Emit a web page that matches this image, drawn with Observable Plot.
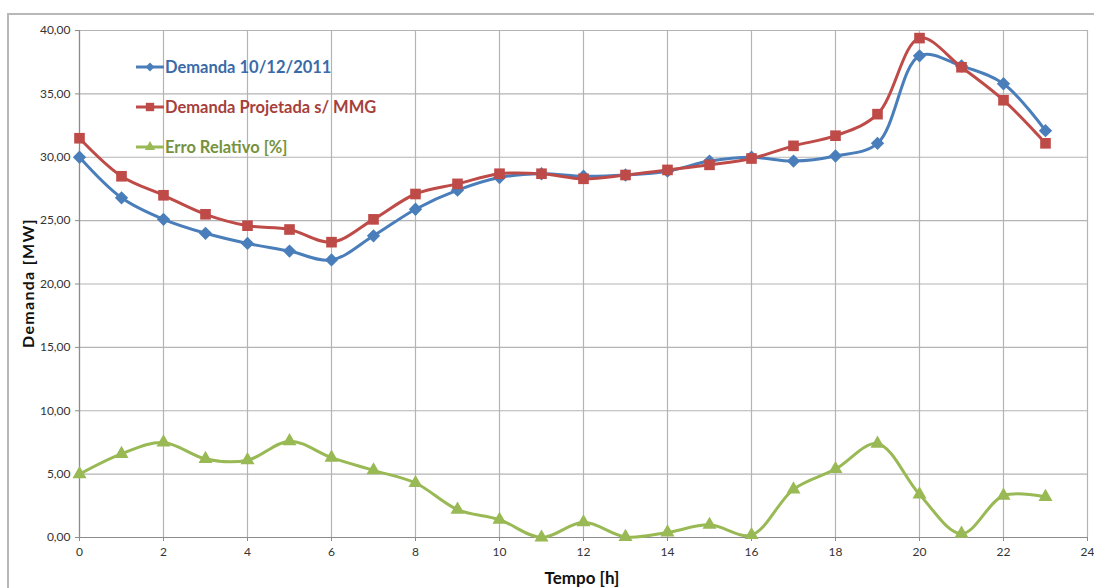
<!DOCTYPE html>
<html>
<head>
<meta charset="utf-8">
<script src="https://cdn.jsdelivr.net/npm/d3@7"></script>
<script src="https://cdn.jsdelivr.net/npm/@observablehq/plot@0.6"></script>
<style>
  html, body { margin: 0; padding: 0; background: #fff; }
  #chart { position: relative; width: 1094px; height: 588px; overflow: hidden; font-family: Lato, "Open Sans", sans-serif; }
  #frame { position: absolute; left: 7px; top: 13px; width: 1200px; height: 700px; border-left: 2px solid #b8b8b8; border-top: 2px solid #b8b8b8; box-sizing: border-box; pointer-events: none; }
  #legend { position: absolute; left: 136px; top: 47px; font-weight: bold; font-size: 16.5px; }
  #legend .row { display: flex; align-items: center; height: 40px; }
  #legend svg { margin-right: 1px; }
  #ylabel { position: absolute; left: 27px; top: 283px; transform: translate(-50%, -50%) rotate(-90deg); font-weight: bold; font-size: 16px; letter-spacing: 1.3px; white-space: nowrap; color: #111; }
  #xlabel { position: absolute; left: 582px; top: 569px; line-height: 17px; transform: translateX(-50%); font-weight: bold; font-size: 17px; white-space: nowrap; color: #111; }
</style>
</head>
<body>
<div id="chart">
  <div id="frame"></div>
</div>
<script>
// Hours of the day
const hours = [0, 1, 2, 3, 4, 5, 6, 7, 8, 9, 10, 11, 12, 13, 14, 15, 16, 17, 18, 19, 20, 21, 22, 23];

// Measured demand on 10/12/2011 [MW]
const demanda = [30.0, 26.8, 25.1, 24.0, 23.2, 22.6, 21.9, 23.8, 25.9, 27.4, 28.4, 28.7,
                 28.5, 28.6, 28.9, 29.7, 30.0, 29.7, 30.1, 31.1, 38.0, 37.2, 35.8, 32.1];

// Projected demand without MMG [MW]
const projetada = [31.5, 28.5, 27.0, 25.5, 24.6, 24.3, 23.3, 25.1, 27.1, 27.9, 28.7, 28.7,
                   28.3, 28.6, 29.0, 29.4, 29.9, 30.9, 31.7, 33.4, 39.4, 37.1, 34.5, 31.1];

// Relative error [%]
const erro = [5.0, 6.6, 7.5, 6.2, 6.1, 7.6, 6.3, 5.3, 4.3, 2.2, 1.4, 0.0,
              1.2, 0.05, 0.4, 1.0, 0.2, 3.8, 5.4, 7.4, 3.4, 0.3, 3.3, 3.2];

const seriesNames = ["Demanda 10/12/2011", "Demanda Projetada s/ MMG", "Erro Relativo [%]"];
const lineColors = ["#4a7ebb", "#be4b48", "#98b954"];
const textColors = ["#3a6aa8", "#a63f3c", "#76923c"];
const symbols = ["diamond2", "square", "triangle"];
const symbolR = [6, 6, 5.2];

const xTicks = d3.range(0, 25, 2);
const yTicks = d3.range(0, 41, 5);
const fmt = d => d.toFixed(2).replace(".", ",");

const series = [demanda, projetada, erro].map(vals => hours.map((h, i) => ({h, v: vals[i]})));

const marks = [
  Plot.gridX(xTicks, {stroke: "#b4b4b4", strokeOpacity: 1, strokeWidth: 1.2}),
  Plot.gridY(yTicks, {stroke: "#b4b4b4", strokeOpacity: 1, strokeWidth: 1.2}),
  Plot.ruleX([0], {stroke: "#8c8c8c", strokeWidth: 1.2}),
  Plot.ruleY([0], {stroke: "#8c8c8c", strokeWidth: 1.2}),
  Plot.axisX({ticks: xTicks, tickSize: 4, tickPadding: 6, stroke: "#8c8c8c", fontSize: 12, fill: "#333", label: null}),
  Plot.axisY({ticks: yTicks, tickSize: 4, tickPadding: 5, tickFormat: fmt, stroke: "#8c8c8c", fontSize: 12, fill: "#333", label: null})
];

// Lines first, then markers on top
series.forEach((data, k) => {
  marks.push(Plot.line(data, {x: "h", y: "v", stroke: lineColors[k], strokeWidth: 3, curve: "catmull-rom"}));
});
series.forEach((data, k) => {
  marks.push(Plot.dot(data, {x: "h", y: "v", symbol: symbols[k], fill: lineColors[k], stroke: "none", r: symbolR[k]}));
});

const plot = Plot.plot({
  width: 1094,
  height: 588,
  marginLeft: 79,
  marginRight: 7,
  marginTop: 30,
  marginBottom: 51,
  style: {fontFamily: "Lato, 'Open Sans', sans-serif", background: "transparent"},
  x: {domain: [0, 24]},
  y: {domain: [0, 40]},
  marks
});

const chart = document.getElementById("chart");
plot.style.position = "absolute";
plot.style.left = "0";
plot.style.top = "0";
chart.appendChild(plot);

// Legend
const legend = document.createElement("div");
legend.id = "legend";
const symbolPath = {
  diamond2: d3.symbol(d3.symbolDiamond2, 50)(),
  square: d3.symbol(d3.symbolSquare, 70)(),
  triangle: d3.symbol(d3.symbolTriangle, 45)()
};
seriesNames.forEach((name, k) => {
  const row = document.createElement("div");
  row.className = "row";
  row.innerHTML =
    `<svg width="28" height="20"><line x1="0" x2="28" y1="10" y2="10" stroke="${lineColors[k]}" stroke-width="3"/>` +
    `<path d="${symbolPath[symbols[k]]}" transform="translate(14,10)" fill="${lineColors[k]}"/></svg>` +
    `<span style="color:${textColors[k]}">${name}</span>`;
  legend.appendChild(row);
});
chart.appendChild(legend);

const yl = document.createElement("div");
yl.id = "ylabel";
yl.textContent = "Demanda [MW]";
chart.appendChild(yl);

const xl = document.createElement("div");
xl.id = "xlabel";
xl.textContent = "Tempo [h]";
chart.appendChild(xl);
</script>
</body>
</html>
